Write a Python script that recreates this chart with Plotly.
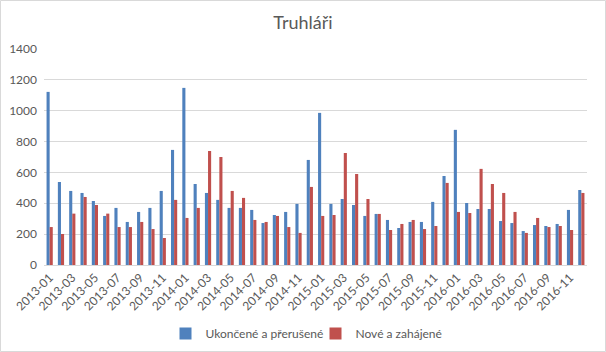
import plotly.graph_objects as go

months = [f"{y}-{m:02d}" for y in range(2013, 2017) for m in range(1, 13)]
ukoncene = [1122, 538, 480, 467, 415, 318, 370, 279, 344, 370, 480, 746,
            1148, 525, 467, 422, 370, 370, 357, 272, 324, 344, 396, 681,
            986, 396, 428, 389, 318, 331, 292, 240, 279, 279, 409, 577,
            876, 402, 363, 363, 285, 272, 220, 259, 253, 266, 357, 486]
nove = [246, 201, 333, 441, 389, 333, 246, 246, 279, 233, 175, 422,
        305, 370, 739, 700, 480, 435, 292, 279, 318, 246, 208, 506,
        318, 324, 726, 590, 428, 331, 227, 266, 292, 233, 253, 532,
        344, 337, 623, 525, 467, 344, 208, 305, 246, 253, 227, 467]
tick_labels = months[::2]
y_ticks = [0, 200, 400, 600, 800, 1000, 1200, 1400]

W, H = 606, 352
L, R, T, B = 44, 19, 49, 87
pw, ph = W - L - R, H - T - B
font = "Lato, 'Liberation Sans', sans-serif"
gray = "#595959"

fig = go.Figure()
fig.add_trace(go.Bar(x=months, y=ukoncene, name="Ukončené a přerušené",
                     marker=dict(color="#4F81BD", line=dict(width=0))))
fig.add_trace(go.Bar(x=months, y=nove, name="Nové a zahájené",
                     marker=dict(color="#C0504D", line=dict(width=0))))

def px2x(p):
    return (p - L) / pw

def px2y(p):
    return (H - B - p) / ph

fig.add_shape(type="rect", xref="paper", yref="paper",
              x0=px2x(0.5), x1=px2x(W - 0.5), y0=px2y(H - 0.5), y1=px2y(0.5),
              line=dict(color="#D9D9D9", width=1), layer="below")

fig.update_layout(
    width=W, height=H,
    margin=dict(l=L, r=R, t=T, b=B, autoexpand=False),
    paper_bgcolor="white", plot_bgcolor="white",
    font=dict(family=font, size=12, color=gray),
    title=dict(text="Truhláři", x=0.5, xanchor="center", y=1 - 23 / H, yanchor="middle",
               font=dict(size=18, color=gray, family=font)),
    barmode="group", bargap=0.45, bargroupgap=0.0,
    showlegend=True,
    legend=dict(orientation="h", x=0.5, xanchor="center", y=px2y(319), yanchor="top",
                font=dict(size=12, color=gray), itemwidth=30,
                entrywidth=105, entrywidthmode="pixels",
                traceorder="normal"),
    xaxis=dict(type="category", tickmode="array", tickvals=tick_labels, ticktext=tick_labels,
               tickangle=-45, showgrid=False, showline=True, linecolor="#D9D9D9",
               linewidth=1, ticks="", automargin=False, tickfont=dict(size=12, color=gray)),
    yaxis=dict(range=[0, 1400], tickvals=y_ticks, showgrid=True, gridcolor="#D9D9D9",
               gridwidth=1, zeroline=False, showline=False, ticks="", automargin=False,
               ticklabelstandoff=6, tickfont=dict(size=12, color=gray)),
)

fig.write_html("out.html")
